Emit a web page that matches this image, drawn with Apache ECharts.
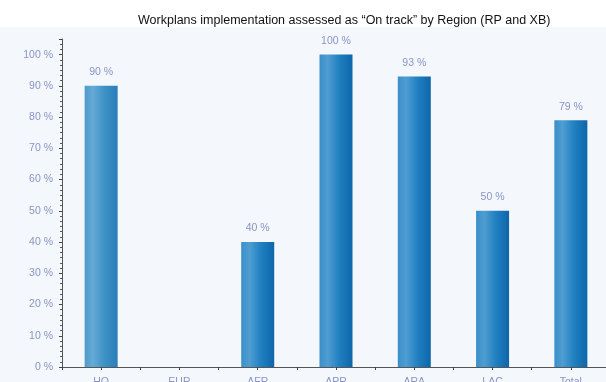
<!DOCTYPE html>
<html><head><meta charset="utf-8">
<script src="https://cdn.jsdelivr.net/npm/echarts@6/dist/echarts.min.js"></script>
<style>html,body{margin:0;padding:0;background:#fff}#c{width:606px;height:382px}</style>
</head><body><div id="c"></div>
<script>
const categories = ['HQ','EUR','AFR','APR','ARA','LAC','Total'];
const values = [90, null, 40, 100, 93, 50, 79];
const yTicks = [0,10,20,30,40,50,60,70,80,90,100];
const titleText = 'Workplans implementation assessed as \u201cOn track\u201d by Region (RP and XB)';

const chart = echarts.init(document.getElementById('c'), null, {renderer:'canvas'});
const labelColor = '#8a94c4';
const mainGrad = new echarts.graphic.LinearGradient(0, 0, 1, 0, [
  { offset: 0, color: '#3a8fc9' },
  { offset: 0.25, color: '#4f9dd2' },
  { offset: 0.6, color: '#2080c1' },
  { offset: 1, color: '#0d66a9' }
]);
const lightGrad = new echarts.graphic.LinearGradient(0, 0, 1, 0, [
  { offset: 0, color: '#4f9bcc' },
  { offset: 0.25, color: '#66aad6' },
  { offset: 0.6, color: '#3d91c6' },
  { offset: 1, color: '#2a7db8' }
]);
const barData = values.map((v, i) => ({ value: v, itemStyle: { color: i === 0 ? lightGrad : mainGrad } }));
chart.setOption({
  animation: false,
  backgroundColor: '#fff',
  title: { text: titleText, left: 133, top: 9,
    textStyle: { fontFamily: 'Liberation Sans, Arial', fontSize: 12.5, fontWeight: 'normal', color: '#111' } },
  graphic: [{ type: 'rect', z: -10, shape: { x: 0, y: 27, width: 606, height: 355 }, style: { fill: '#f4f7fc' } }],
  grid: { left: 62, right: -4, top: 39, bottom: 15, containLabel: false, outerBoundsMode: 'none' },
  xAxis: [{
    type: 'category', data: categories,
    axisLine: { lineStyle: { color: '#555', width: 1 } },
    axisTick: { show: true, inside: false, length: 3, lineStyle: { color: '#444' } },
    axisLabel: { color: labelColor, fontFamily: 'Liberation Sans, Arial', fontSize: 10.5, margin: 10 }
  },{
    type: 'category', data: categories, position: 'bottom',
    axisLine: { show: false },
    axisTick: { show: true, alignWithLabel: true, length: 3, lineStyle: { color: '#444' } },
    axisLabel: { show: false }
  }],
  yAxis: {
    type: 'value', min: 0, max: 105, interval: 10,
    axisLine: { show: true, lineStyle: { color: '#555' } },
    axisTick: { show: true, length: 3, lineStyle: { color: '#444' } },
    minorTick: { show: true, splitNumber: 6, length: 2, lineStyle: { color: '#555' } },
    splitLine: { show: false },
    axisLabel: { color: labelColor, fontFamily: 'Liberation Sans, Arial', fontSize: 10.5, margin: 9,
      formatter: v => (yTicks.indexOf(v) >= 0 ? v + ' %' : '') }
  },
  series: [{
    type: 'bar', data: barData, barWidth: 33, xAxisIndex: 0,
    label: { show: true, position: 'top', distance: 8, color: labelColor,
      fontFamily: 'Liberation Sans, Arial', fontSize: 10.5, formatter: p => p.value + ' %' }
  }]
});
</script></body></html>
